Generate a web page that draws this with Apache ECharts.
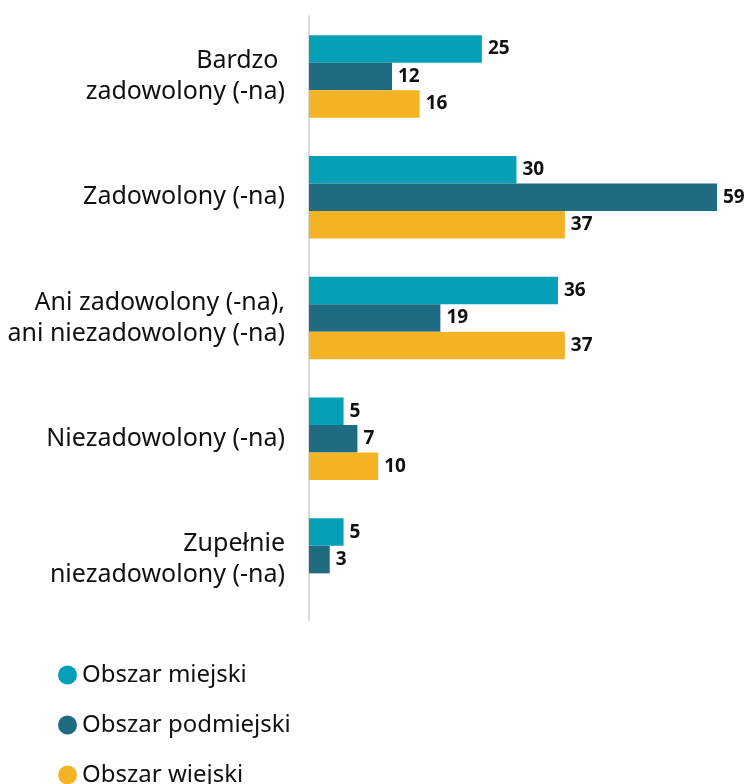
<!DOCTYPE html>
<html>
<head>
<meta charset="utf-8">
<script src="https://cdn.jsdelivr.net/npm/echarts@6/dist/echarts.min.js"></script>
<style>
  html, body { margin: 0; padding: 0; background: #fff; }
  #chart { width: 749px; height: 784px; }
</style>
</head>
<body>
<div id="chart"></div>
<script>
// categories (top to bottom)
var categories = [
  'Bardzo \nzadowolony (-na)',
  'Zadowolony (-na)',
  'Ani zadowolony (-na),\nani niezadowolony (-na)',
  'Niezadowolony (-na)',
  'Zupełnie\nniezadowolony (-na)'
];
var seriesNames = ['Obszar miejski', 'Obszar podmiejski', 'Obszar wiejski'];
var miejski = [25, 30, 36, 5, 5];
var podmiejski = [12, 59, 19, 7, 3];
var wiejski = [16, 37, 37, 10, null];
var colors = ['#05a0b7', '#1f6b82', '#f4b225'];

var chart = echarts.init(document.getElementById('chart'));

function makeSeries(name, data, color) {
  return {
    name: name,
    type: 'bar',
    data: data,
    barWidth: 27.5,
    barGap: '0%',
    itemStyle: { color: color },
    label: {
      show: true,
      position: 'right',
      distance: 6,
      color: '#111',
      fontWeight: 'bold',
      fontSize: 19,
      fontFamily: 'Noto Sans'
    }
  };
}

chart.setOption({
  textStyle: { fontFamily: 'Noto Sans' },
  animation: false,
  grid: { left: 309, right: 32, top: 16, bottom: 164, containLabel: false },
  legend: {
    orient: 'vertical',
    left: 53,
    top: 658,
    height: 250,
    icon: 'circle',
    itemWidth: 19,
    itemHeight: 19,
    itemGap: 26,
    textStyle: { fontSize: 24, color: '#111', fontFamily: 'Noto Sans' },
    data: seriesNames
  },
  xAxis: {
    type: 'value',
    min: 0,
    max: 59,
    show: false
  },
  yAxis: {
    type: 'category',
    inverse: true,
    data: categories,
    axisLine: { show: true, lineStyle: { color: '#d9d9d9', width: 2 } },
    axisTick: { show: false },
    axisLabel: {
      margin: 24,
      fontSize: 25,
      lineHeight: 31,
      color: '#111',
      align: 'right'
    }
  },
  series: [
    makeSeries(seriesNames[0], miejski, colors[0]),
    makeSeries(seriesNames[1], podmiejski, colors[1]),
    makeSeries(seriesNames[2], wiejski, colors[2])
  ]
});
</script>
</body>
</html>
